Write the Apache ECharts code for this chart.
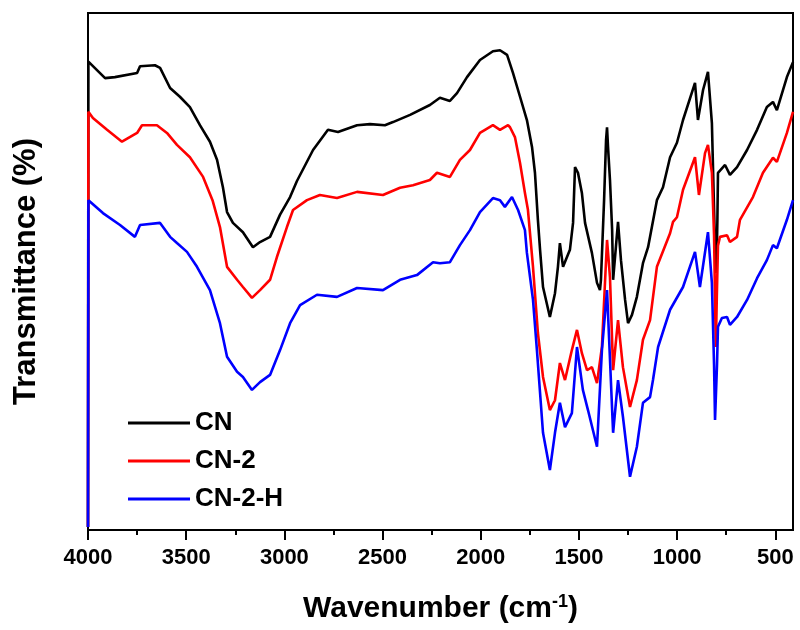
<!DOCTYPE html>
<html>
<head>
<meta charset="utf-8">
<title>FTIR spectra</title>
<script src="https://cdn.jsdelivr.net/npm/echarts@6/dist/echarts.min.js"></script>
<style>
  html, body { margin: 0; padding: 0; background: #fff; }
  #chart { width: 800px; height: 630px; }
</style>
</head>
<body>
<div id="chart"></div>
<script>
// FTIR transmittance spectra: [wavenumber (cm-1), transmittance (a.u.)]
const seriesNames = ['CN', 'CN-2', 'CN-2-H'];
const seriesColors = ['#000000', '#ff0000', '#0000ff'];

const cnData = [
  [4000,0.6],[3998,90.6],[3913,87.4],[3863,87.6],[3750,88.4],[3735,89.7],[3659,89.9],[3633,89.4],
  [3582,85.5],[3532,83.8],[3481,81.8],[3430,78.3],[3379,75.1],[3343,71.6],[3313,66.3],[3292,61.5],
  [3262,59.4],[3211,57.6],[3160,54.7],[3124,55.7],[3073,56.7],[3022,61.0],[2971,64.4],[2936,67.5],
  [2854,73.5],[2778,77.4],[2727,77.0],[2630,78.3],[2564,78.5],[2488,78.3],[2447,78.9],[2360,80.3],
  [2259,82.2],[2208,83.6],[2157,83.0],[2121,84.5],[2070,87.6],[2004,90.9],[1938,92.6],[1902,92.8],
  [1866,91.9],[1836,88.4],[1800,83.8],[1765,79.3],[1739,74.1],[1724,69.1],[1709,60.0],[1698,54.2],
  [1683,47.0],[1648,41.2],[1622,45.8],[1607,50.9],[1597,55.5],[1581,50.9],[1546,54.2],[1530,59.4],
  [1520,70.2],[1505,69.1],[1485,65.2],[1469,59.4],[1434,53.6],[1408,47.8],[1393,46.4],[1388,48.4],
  [1372,63.8],[1362,75.4],[1357,77.9],[1352,74.1],[1342,67.7],[1331,58.0],[1326,48.4],[1301,59.6],
  [1286,52.2],[1265,44.5],[1250,40.0],[1230,41.6],[1205,45.1],[1174,51.6],[1148,54.7],[1103,63.8],
  [1072,66.3],[1036,72.1],[1001,74.9],[970,79.3],[909,86.5],[894,79.3],[868,85.1],[843,88.6],
  [823,78.7],[812,62.0],[805,52.0],[800,49.7],[795,60.0],[792,69.1],[756,70.6],[731,68.7],
  [695,70.2],[644,73.5],[593,77.4],[543,81.8],[512,82.8],[492,81.2],[441,87.6],[410,90.5]
];

const cn2Data = [
  [4000,0.6],[3998,80.9],[3975,79.7],[3903,77.4],[3827,75.1],[3750,76.8],[3725,78.3],[3649,78.3],
  [3598,76.8],[3547,74.5],[3481,72.1],[3414,68.3],[3366,63.8],[3328,58.6],[3292,50.9],[3241,48.4],
  [3211,47.0],[3165,44.9],[3124,46.4],[3073,48.4],[3038,52.8],[2987,58.6],[2956,61.9],[2885,63.8],
  [2819,64.8],[2732,64.2],[2630,65.4],[2498,64.8],[2411,66.2],[2345,66.7],[2259,67.7],[2223,69.1],
  [2157,68.3],[2106,71.6],[2055,73.5],[2004,76.8],[1938,78.3],[1902,77.4],[1861,78.3],[1851,77.9],
  [1826,76.0],[1800,71.0],[1775,65.2],[1760,62.0],[1734,50.9],[1709,38.1],[1683,29.6],[1648,23.2],
  [1622,25.1],[1597,32.3],[1571,29.0],[1536,34.8],[1510,38.7],[1485,34.2],[1459,30.9],[1434,31.5],
  [1408,28.4],[1383,35.4],[1357,56.1],[1342,48.9],[1326,30.9],[1301,40.6],[1276,31.5],[1240,23.8],
  [1205,29.0],[1174,36.8],[1138,40.6],[1103,50.9],[1036,57.4],[1021,59.6],[1001,60.5],[970,65.8],
  [909,72.1],[889,64.8],[858,72.9],[843,74.5],[823,69.1],[812,57.0],[806,42.0],[803,35.4],
  [798,45.0],[792,55.0],[782,56.7],[746,57.0],[731,55.7],[695,56.7],[680,60.0],[614,64.4],
  [563,69.1],[512,72.0],[492,71.2],[441,76.8],[410,80.9]
];

const cn2hData = [
  [4000,0.6],[3998,63.8],[3924,61.3],[3837,59.0],[3761,56.7],[3735,59.0],[3633,59.4],[3582,56.7],
  [3547,55.5],[3496,53.8],[3445,50.9],[3379,46.4],[3328,40.0],[3292,33.5],[3241,30.6],[3211,29.6],
  [3165,27.1],[3124,28.6],[3073,30.0],[3022,34.8],[2971,40.0],[2920,43.5],[2834,45.5],[2732,45.1],
  [2630,46.8],[2498,46.4],[2411,48.4],[2325,49.3],[2243,51.8],[2208,51.6],[2157,51.8],[2106,55.1],
  [2055,58.0],[2004,61.5],[1938,64.2],[1902,63.8],[1877,62.5],[1841,64.4],[1810,61.9],[1775,58.0],
  [1765,53.6],[1734,44.5],[1714,34.8],[1698,26.5],[1683,18.8],[1648,11.6],[1622,18.8],[1597,24.6],
  [1571,19.9],[1536,22.6],[1510,35.4],[1480,27.1],[1454,23.2],[1408,16.1],[1383,34.8],[1357,46.4],
  [1326,18.8],[1301,29.0],[1276,21.9],[1240,10.3],[1205,16.1],[1174,24.6],[1138,25.7],[1123,29.0],
  [1097,35.4],[1036,42.6],[970,47.0],[909,53.8],[884,47.0],[843,57.6],[823,47.8],[812,31.9],
  [807,21.3],[797,31.9],[792,39.3],[772,41.0],[746,41.2],[731,39.7],[695,41.2],[644,44.5],
  [593,48.7],[543,52.2],[512,55.1],[492,54.5],[441,60.0],[410,63.8]
];

// x-axis tick positions (labelled every 500, minor ticks in between)
const majorTicks = [500, 1000, 1500, 2000, 2500, 3000, 3500, 4000];
const minorTicks = [750, 1250, 1750, 2250, 2750, 3250, 3750];

const xMin = 410, xMax = 4000;
const FONT = '"Liberation Sans", Arial, Helvetica, sans-serif';

const chart = echarts.init(document.getElementById('chart'), null, { renderer: 'canvas' });

const allData = [cnData, cn2Data, cn2hData];

chart.setOption({
  animation: false,
  backgroundColor: '#ffffff',
  grid: {
    left: 88, right: 7, top: 13, bottom: 100,
    show: true, borderColor: '#000', borderWidth: 2, backgroundColor: 'transparent'
  },
  legend: {
    orient: 'vertical',
    left: 123, top: 405,
    itemWidth: 62, itemHeight: 3, itemGap: 12,
    icon: 'rect',
    data: seriesNames,
    textStyle: { fontFamily: FONT, fontSize: 26, fontWeight: 'bold', color: '#000' }
  },
  xAxis: [
    {
      type: 'value', inverse: true, min: xMin, max: xMax, position: 'bottom',
      axisLine: { show: true, lineStyle: { color: '#000', width: 2 } },
      axisTick: { show: true, customValues: majorTicks, length: 10, lineStyle: { color: '#000', width: 2 } },
      axisLabel: {
        customValues: majorTicks, margin: 17, color: '#000',
        fontFamily: FONT, fontSize: 22, fontWeight: 'bold',
        formatter: (v) => String(v)
      },
      splitLine: { show: false },
      name: 'Wavenumber (cm{sup|-1})',
      nameLocation: 'middle', nameGap: 63,
      nameTextStyle: {
        fontFamily: FONT, fontSize: 30, fontWeight: 'bold', color: '#000',
        rich: { sup: { fontFamily: FONT, fontSize: 18, fontWeight: 'bold', color: '#000', verticalAlign: 'top', padding: [0, 0, 14, 0] } }
      }
    },
    {
      type: 'value', inverse: true, min: xMin, max: xMax, position: 'bottom', offset: 0,
      axisLine: { show: false },
      axisTick: { show: true, customValues: minorTicks, length: 5, lineStyle: { color: '#000', width: 2 } },
      axisLabel: { show: false },
      splitLine: { show: false }
    }
  ],
  yAxis: {
    type: 'value', min: 0, max: 100,
    axisLine: { show: true, lineStyle: { color: '#000', width: 2 } },
    axisTick: { show: false },
    axisLabel: { show: false },
    splitLine: { show: false },
    name: 'Transmittance (%)',
    nameLocation: 'middle', nameGap: 46,
    nameTextStyle: { fontFamily: FONT, fontSize: 31, fontWeight: 'bold', color: '#000' }
  },
  series: seriesNames.map((name, i) => ({
    name: name,
    type: 'line',
    xAxisIndex: 0,
    data: allData[i],
    showSymbol: false,
    symbol: 'none',
    color: seriesColors[i],
    lineStyle: { color: seriesColors[i], width: 2.6 },
    z: 2 + i
  }))
});
</script>
</body>
</html>
